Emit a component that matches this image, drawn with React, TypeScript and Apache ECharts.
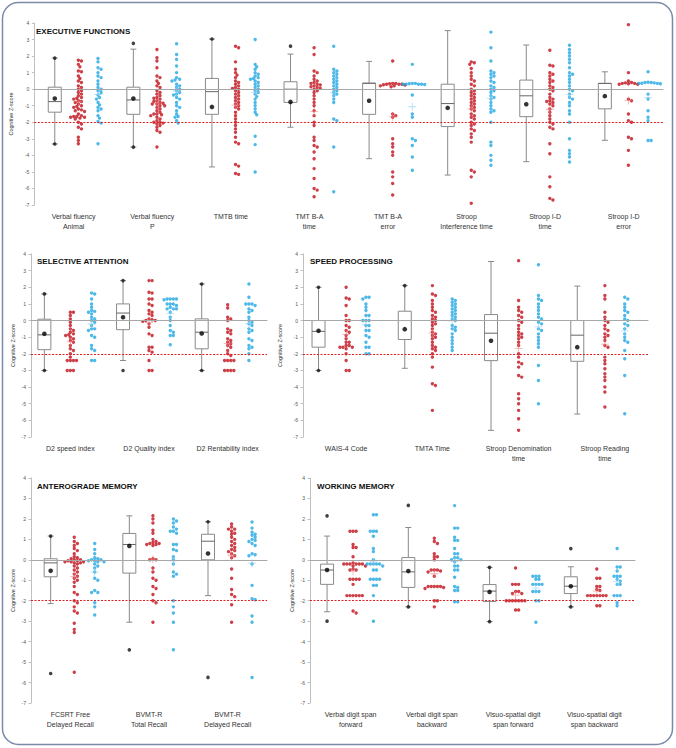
import React, { useEffect, useRef } from "react";
import * as echarts from "echarts";

const RED = "#c0101a";
const BLUE = "#22a8e2";
const FONT = '"Liberation Sans", Arial, sans-serif';

// ---------- Executive functions ----------
const execCategories = ["Verbal fluency\nAnimal", "Verbal fluency\nP", "TMTB time", "TMT B-A\ntime", "TMT B-A\nerror", "Stroop\nInterference time", "Stroop I-D\ntime", "Stroop I-D\nerror"];
// [whisker low, Q1, median, Q3, whisker high]
const execBoxes = [
  [-3.31, -1.39, -0.75, 0.12, 1.88], [-3.5, -1.52, -0.65, 0.12, 2.42], [-4.7, -1.52, -0.15, 0.65, 3.03], [-2.3, -0.8, 0.0, 0.45, 2.12],
  [-4.2, -1.52, 0.36, 0.36, 1.68], [-5.19, -2.26, -0.87, 0.3, 3.54], [-4.38, -1.66, -0.4, 0.55, 2.67], [-3.09, -1.19, 0.35, 0.35, 1.05],
];
const execMeans = [-0.57, -0.57, -1.07, -0.77, -0.7, -1.13, -0.91, -0.42];
const execExtremes = [[1.88, -3.31], [2.77, -3.5], [3.03], [2.6], [], [], [], []];
const execRed = [
  [1.75, 1.7, 1.5, 1.35, 1.1, 1.05, 0.8, 0.65, 0.5, 0.4, 0.2, 0.1, 0.0, -0.1, -0.2, -0.3, -0.4, -0.5, -0.55, -0.6, -0.7, -0.75, -0.8, -0.9, -1.0, -1.05, -1.1, -1.2, -1.25, -1.3, -1.35, -1.5, -1.6, -1.65, -1.65, -1.7, -1.7, -1.75, -1.8, -2.0, -2.1, -2.3, -2.4, -2.9, -3.1, -3.3],
  [2.4, 1.9, 1.7, 1.3, 0.8, 0.7, 0.5, 0.35, 0.2, 0.1, -0.1, -0.2, -0.3, -0.4, -0.5, -0.55, -0.6, -0.7, -0.75, -0.8, -0.85, -0.9, -0.9, -1.0, -1.0, -1.1, -1.2, -1.3, -1.4, -1.5, -1.5, -1.55, -1.6, -1.7, -1.8, -1.9, -2.0, -2.0, -2.05, -2.1, -2.2, -2.3, -2.5, -2.6, -3.5],
  [2.6, 2.5, 1.65, 1.2, 1.0, 0.85, 0.7, 0.5, 0.4, 0.3, 0.2, 0.1, 0.05, 0.0, -0.1, -0.2, -0.3, -0.4, -0.5, -0.6, -0.7, -0.8, -0.9, -1.0, -1.1, -1.2, -1.4, -1.6, -1.8, -2.0, -2.2, -2.4, -2.6, -2.9, -3.2, -3.3, -4.55, -4.65, -5.1, -5.15],
  [2.5, 2.1, 1.1, 1.0, 0.8, 0.6, 0.5, 0.4, 0.35, 0.3, 0.25, 0.2, 0.15, 0.1, 0.05, 0.0, -0.1, -0.2, -0.4, -0.6, -0.8, -1.0, -1.3, -1.6, -2.0, -2.2, -2.9, -3.1, -3.4, -3.5, -3.8, -4.2, -4.8, -5.4, -6.0, -6.1, -6.5],
  [1.7, 0.35, 0.35, 0.33, 0.3, 0.3, 0.3, 0.27, 0.25, 0.2, 0.2, 0.15, -1.5, -1.6, -1.7, -3.0, -3.3, -3.5, -3.8, -4.0, -5.0, -5.3, -5.7, -6.4],
  [1.65, 1.6, 1.5, 1.25, 1.0, 0.8, 0.6, 0.5, 0.3, 0.2, 0.0, -0.1, -0.2, -0.3, -0.4, -0.5, -0.6, -0.7, -0.8, -0.9, -1.0, -1.1, -1.2, -1.3, -1.5, -1.6, -1.7, -1.8, -2.0, -2.1, -2.2, -2.4, -2.5, -2.7, -2.9, -3.2, -4.9, -5.0, -5.3, -6.9],
  [2.35, 1.45, 1.4, 1.0, 0.9, 0.8, 0.6, 0.5, 0.4, 0.2, 0.1, 0.0, -0.1, -0.3, -0.5, -0.6, -0.7, -0.75, -0.8, -0.9, -1.0, -1.2, -1.4, -1.6, -1.8, -2.0, -2.1, -2.3, -2.4, -3.3, -3.9, -5.3, -5.9, -6.6, -6.7],
  [3.9, 1.0, 0.5, 0.4, 0.38, 0.35, 0.33, 0.3, 0.3, 0.35, -0.6, -0.7, -1.5, -1.9, -2.0, -2.9, -3.0, -3.7, -4.6],
];
const execBlue = [
  [1.85, 1.65, 1.3, 1.2, 1.0, 0.8, 0.7, 0.5, 0.3, 0.1, 0.0, -0.1, -0.2, -0.35, -0.5, -0.6, -0.8, -0.95, -1.1, -1.2, -1.3, -1.6, -1.75, -1.95, -2.05, -3.3],
  [2.75, 2.1, 1.8, 1.4, 1.0, 0.7, 0.6, 0.55, 0.5, 0.3, 0.2, 0.1, 0.0, -0.1, -0.2, -0.3, -0.35, -0.5, -0.6, -0.8, -1.0, -1.1, -1.3, -1.5, -1.65, -1.7, -1.9, -2.05],
  [3.0, 1.5, 1.35, 1.2, 1.0, 0.9, 0.8, 0.7, 0.65, 0.6, 0.5, 0.4, 0.3, 0.2, 0.1, 0.0, -0.1, -0.2, -0.3, -0.45, -0.6, -0.8, -1.0, -1.2, -1.4, -1.55, -2.85, -3.35, -5.0],
  [2.6, 1.2, 1.1, 1.0, 0.9, 0.8, 0.7, 0.6, 0.5, 0.4, 0.3, 0.2, 0.1, 0.0, -0.1, -0.2, -0.3, -0.4, -0.6, -0.8, -1.8, -1.9, -3.5, -6.2],
  [1.5, 0.35, 0.33, 0.3, 0.3, 0.3, 0.3, 0.28, 0.35, -0.35, -1.5, -1.7, -3.0, -3.1, -3.4, -4.1, -4.9],
  [3.45, 2.5, 1.7, 1.1, 1.0, 0.9, 0.8, 0.7, 0.5, 0.4, 0.2, 0.1, 0.0, -0.1, -0.2, -0.4, -0.5, -0.6, -0.8, -1.0, -1.2, -1.3, -1.4, -2.0, -3.2, -3.4, -4.0, -4.3, -4.6],
  [2.65, 2.4, 2.2, 2.0, 1.8, 1.6, 1.3, 1.0, 0.9, 0.8, 0.6, 0.4, 0.2, 0.0, -0.1, -0.3, -0.5, -0.6, -0.8, -1.0, -1.3, -1.5, -2.0, -3.0, -3.7, -3.9, -4.1, -4.4],
  [1.05, 0.42, 0.4, 0.4, 0.38, 0.36, 0.35, 0.35, 0.33, -0.3, -0.6, -1.3, -1.7, -1.9, -3.1, -3.1],
];

// ---------- Selective attention ----------
const selCategories = ["D2 speed index", "D2 Quality index", "D2 Rentability index"];
const selBoxes = [[-3.0, -1.75, -0.86, 0.08, 1.6], [-2.4, -0.55, 0.45, 1.0, 2.4], [-3.0, -1.7, -0.7, 0.1, 2.2]];
const selMeans = [-0.8, 0.2, -0.78];
const selExtremes = [[1.6, -3.0], [2.4, -3.0], [2.2, -3.0]];
const selRed = [
  [0.5, 0.5, 0.3, 0.1, -0.1, -0.3, -0.5, -0.6, -0.7, -0.8, -0.85, -0.9, -1.0, -1.1, -1.2, -1.3, -1.5, -1.7, -1.8, -2.0, -2.2, -2.4, -2.4, -2.4, -2.4, -3.0, -3.0, -3.0],
  [2.4, 2.4, 1.7, 1.65, 1.3, 1.3, 1.0, 0.9, 0.6, 0.5, 0.4, 0.3, 0.1, 0.05, 0.0, 0.0, -0.05, -0.2, -0.4, -0.8, -0.9, -1.6, -1.6, -1.8, -1.9, -2.4, -3.0, -3.0],
  [0.95, 0.75, 0.2, 0.1, 0.0, -0.5, -0.6, -0.7, -0.8, -1.1, -1.2, -1.3, -1.4, -1.5, -1.6, -1.8, -2.0, -2.1, -2.4, -2.4, -2.4, -2.4, -3.0, -3.0, -3.0, -3.0],
];
const selBlue = [
  [1.65, 1.6, 1.3, 1.0, 0.8, 0.6, 0.55, 0.5, 0.4, 0.2, 0.1, 0.0, -0.1, -0.3, -0.5, -0.5, -0.6, -0.9, -1.0, -1.5, -1.7, -1.8, -2.4, -2.4],
  [1.3, 1.3, 1.3, 1.3, 1.25, 1.0, 1.0, 1.0, 0.9, 0.8, 0.7, 0.7, 0.7, 0.5, 0.2, 0.0, -0.3, -0.6, -0.7, -0.9, -0.9, -1.45],
  [2.2, 1.4, 1.0, 1.0, 1.0, 0.9, 0.7, 0.6, 0.5, 0.2, 0.0, -0.1, -0.2, -0.3, -0.5, -0.6, -0.7, -1.1, -1.2, -1.5, -1.6, -1.7, -2.0, -2.4],
];

// ---------- Speed processing ----------
const speedCategories = ["WAIS-4 Code", "TMTA Time", "Stroop Denomination\ntime", "Stroop Reading\ntime"];
const speedBoxes = [[-3.0, -1.6, -0.65, 0.0, 2.0], [-2.87, -1.14, 0.0, 0.56, 2.1], [-6.6, -2.41, -0.76, 0.36, 3.55], [-5.62, -2.45, -0.88, 0.0, 2.07]];
const speedMeans = [-0.62, -0.52, -1.22, -1.6];
const speedExtremes = [[2.0, -3.0], [2.1], [], []];
const speedRed = [
  [2.0, 1.35, 1.3, 0.9, 0.3, 0.0, 0.0, -0.3, -0.4, -0.6, -0.7, -0.9, -1.1, -1.3, -1.3, -1.5, -1.5, -1.6, -1.6, -1.6, -1.7, -2.0, -2.4, -3.0, -3.0],
  [2.1, 1.6, 1.5, 1.2, 1.0, 0.8, 0.6, 0.5, 0.3, 0.2, 0.1, 0.0, -0.1, -0.2, -0.3, -0.5, -0.7, -0.8, -0.9, -1.0, -1.1, -1.3, -1.5, -1.6, -1.7, -1.8, -2.0, -2.2, -2.8, -3.8, -3.9, -5.4],
  [3.6, 1.2, 0.8, 0.6, 0.5, 0.3, 0.2, 0.0, -0.1, -0.3, -0.5, -0.7, -0.8, -0.9, -1.0, -1.1, -1.3, -1.5, -2.0, -2.2, -2.5, -2.6, -2.8, -3.3, -3.4, -4.4, -4.7, -5.0, -5.4, -5.9, -6.6],
  [2.1, 1.5, 1.3, 0.5, 0.2, 0.0, -0.1, -0.3, -0.5, -0.6, -0.8, -0.9, -1.0, -1.2, -1.5, -1.6, -2.2, -2.4, -2.6, -2.9, -3.2, -3.4, -3.6, -4.0, -4.3, -5.2],
];
const speedBlue = [
  [1.4, 1.4, 1.3, 1.0, 0.8, 0.6, 0.3, 0.3, 0.0, 0.0, 0.0, -0.3, -0.3, -0.6, -0.6, -0.9, -1.0, -1.3, -1.6, -1.6, -2.0, -2.0],
  [1.3, 1.2, 1.1, 1.0, 0.9, 0.8, 0.7, 0.6, 0.5, 0.4, 0.3, 0.2, 0.1, 0.0, -0.3, -0.4, -0.5, -0.6, -0.8, -1.0, -1.2, -1.4, -1.6, -1.8],
  [3.35, 1.5, 1.3, 1.2, 1.0, 0.8, 0.6, 0.4, 0.2, 0.1, -0.1, -0.2, -0.5, -0.6, -0.8, -1.0, -1.2, -1.4, -1.6, -2.7, -3.6, -5.0],
  [1.4, 1.3, 1.0, 0.8, 0.6, 0.5, 0.3, 0.1, 0.0, -0.2, -0.3, -0.5, -0.8, -1.0, -1.2, -1.3, -1.8, -2.3, -3.3, -5.6],
];

// ---------- Anterograde memory ----------
const anteroCategories = ["FCSRT Free\nDelayed Recall", "BVMT-R\nTotal Recall", "BVMT-R\nDelayed Recall"];
const anteroBoxes = [[-2.14, -0.83, -0.15, 0.05, 1.16], [-3.05, -0.65, 0.75, 1.29, 2.15], [-1.75, 0.0, 0.91, 1.25, 1.86]];
const anteroMeans = [-0.54, 0.68, 0.31];
const anteroExtremes = [[1.16, -5.56], [-4.4], [1.86, -5.75]];
const anteroRed = [
  [1.1, 0.9, 0.8, 0.7, 0.55, 0.45, 0.3, 0.15, 0.1, 0.05, 0.0, 0.0, -0.05, -0.05, -0.1, -0.1, -0.15, -0.15, -0.1, -0.2, -0.3, -0.4, -0.5, -0.6, -0.7, -0.8, -0.9, -1.0, -1.1, -1.3, -1.6, -1.7, -2.0, -2.1, -2.3, -2.5, -2.6, -3.1, -3.4, -3.55, -5.5],
  [2.15, 2.0, 1.8, 1.45, 1.3, 1.0, 0.9, 0.85, 0.8, 0.8, 0.75, 0.75, 0.7, 0.05, 0.0, 0.0, -0.4, -0.6, -0.9, -1.0, -1.3, -1.4, -1.7, -2.0, -2.1, -3.05],
  [1.75, 1.6, 1.5, 1.5, 1.4, 1.3, 1.25, 1.1, 1.0, 0.9, 0.8, 0.7, 0.6, 0.5, 0.45, 0.4, 0.3, 0.2, 0.1, -0.45, -0.9, -1.45, -1.7, -1.8, -2.2, -3.05],
];
const anteroBlue = [
  [0.8, 0.5, 0.3, 0.1, 0.05, 0.0, 0.0, -0.05, -0.05, -0.1, -0.1, -0.2, -0.3, -0.4, -0.6, -0.9, -1.0, -1.5, -1.6, -1.6, -2.1, -2.3, -2.7],
  [2.0, 1.9, 1.8, 1.6, 1.5, 1.4, 1.4, 1.3, 0.75, 0.75, 0.5, 0.45, 0.15, 0.0, -0.2, -0.6, -0.7, -0.8, -2.0, -2.3, -2.6, -3.05, -4.4],
  [1.85, 1.55, 1.35, 1.25, 1.2, 1.1, 1.0, 0.95, 0.9, 0.8, 0.7, 0.3, 0.25, 0.2, -0.2, -1.25, -1.9, -1.95, -2.75, -3.05, -5.75],
];

// ---------- Working memory ----------
const workCategories = ["Verbal digit span\nforward", "Verbal digit span\nbackward", "Visuo-spatial digit\nspan forward", "Visuo-spatial digit\nspan backward"];
const workBoxes = [[-2.54, -1.2, -0.5, -0.21, 1.16], [-2.3, -1.35, -0.59, 0.11, 1.58], [-3.02, -2.04, -1.53, -1.21, -0.37], [-2.3, -1.65, -1.29, -0.83, -0.34]];
const workMeans = [-0.5, -0.55, -1.57, -1.29];
const workExtremes = [[2.15, -3.0], [2.66, -2.3], [-0.37, -3.02], [0.55, -2.3]];
const workRed = [
  [1.4, 1.4, 1.4, 0.75, 0.6, 0.6, 0.15, -0.15, -0.2, -0.2, -0.2, -0.2, -0.2, -0.2, -0.3, -0.3, -0.45, -0.5, -0.5, -0.95, -0.95, -0.95, -0.95, -1.2, -1.75, -1.75, -1.75, -1.75, -1.75, -1.75, -2.5, -2.6],
  [1.05, 0.9, 0.8, 0.3, 0.15, 0.15, 0.0, -0.5, -0.5, -0.5, -0.55, -0.6, -0.8, -1.3, -1.3, -1.3, -1.3, -1.3, -1.35, -1.4, -2.0, -2.0, -2.3],
  [-0.4, -1.2, -1.2, -1.2, -1.55, -1.55, -1.65, -1.65, -2.0, -2.0, -2.0, -2.0, -2.0, -2.0, -2.0, -2.45, -2.45],
  [-0.45, -0.9, -0.9, -1.3, -1.3, -1.45, -1.5, -1.75, -1.75, -1.75, -1.75, -1.75, -1.75, -1.75, -2.25, -2.25],
];
const workBlue = [
  [2.2, 2.2, 1.4, 1.4, 1.4, 1.15, 0.55, 0.4, 0.0, -0.2, -0.2, -0.2, -0.2, -0.2, -0.3, -0.5, -0.5, -0.95, -0.95, -0.95, -0.95, -1.25, -1.25, -1.75, -3.0],
  [2.65, 1.55, 1.55, 1.1, 0.95, 0.95, 0.55, 0.3, 0.3, 0.1, 0.1, 0.0, 0.0, -0.1, -0.3, -0.3, -0.5, -0.5, -0.85, -1.3, -1.35, -1.5, -1.5, -2.05, -2.05],
  [-0.8, -0.8, -0.8, -0.95, -0.95, -1.2, -1.2, -1.2, -1.2, -1.55, -1.55, -1.55, -2.0, -2.0, -3.05],
  [0.55, -0.35, -0.35, -0.55, -0.8, -0.8, -0.8, -0.95, -1.05, -1.2, -1.2, -1.75, -1.75, -1.75, -2.1, -2.25],
];

type Panel = {
  title: string; tx: number; ty: number;
  left: number; top: number; width: number; height: number; nameGap: number;
  cats: string[]; boxes: number[][]; means: number[]; extremes: number[][];
  red: number[][]; blue: number[][]; off: [number, number, number];
};

const panels: Panel[] = [
  { title: "EXECUTIVE FUNCTIONS", tx: 36, ty: 31, left: 31, top: 23, width: 632, height: 182, nameGap: 15, cats: execCategories, boxes: execBoxes, means: execMeans, extremes: execExtremes, red: execRed, blue: execBlue, off: [0.26, 0.56, 0.81] },
  { title: "SELECTIVE ATTENTION", tx: 37, ty: 261, left: 31, top: 254, width: 236, height: 183, nameGap: 15, cats: selCategories, boxes: selBoxes, means: selMeans, extremes: selExtremes, red: selRed, blue: selBlue, off: [0.17, 0.5, 0.77] },
  { title: "SPEED PROCESSING", tx: 310, ty: 261, left: 303, top: 254, width: 345, height: 183, nameGap: 15, cats: speedCategories, boxes: speedBoxes, means: speedMeans, extremes: speedExtremes, red: speedRed, blue: speedBlue, off: [0.18, 0.5, 0.73] },
  { title: "ANTEROGRADE MEMORY", tx: 37, ty: 486, left: 31, top: 478, width: 236, height: 225, nameGap: 15, cats: anteroCategories, boxes: anteroBoxes, means: anteroMeans, extremes: anteroExtremes, red: anteroRed, blue: anteroBlue, off: [0.25, 0.55, 0.81] },
  { title: "WORKING MEMORY", tx: 317, ty: 486, left: 310, top: 478, width: 325, height: 225, nameGap: 15, cats: workCategories, boxes: workBoxes, means: workMeans, extremes: workExtremes, red: workRed, blue: workBlue, off: [0.21, 0.53, 0.78] },
];

// deterministic beeswarm layout: returns horizontal pixel offsets
function swarm(values: number[], pxPerY: number, d: number): number[] {
  const idx = values.map((_, i) => i).sort((a, b) => values[b] - values[a]);
  const placed: { x: number; y: number }[] = [];
  const out = new Array(values.length).fill(0);
  const step = d / 2;
  for (const i of idx) {
    const y = -values[i] * pxPerY;
    for (let k = 0; k < 80; k++) {
      const m = Math.ceil(k / 2);
      const off = k === 0 ? 0 : k % 2 === 1 ? m * step : -m * step;
      let ok = true;
      for (const p of placed) {
        const dx = p.x - off, dy = p.y - y;
        if (dx * dx + dy * dy < d * d * 0.8) { ok = false; break; }
      }
      if (ok) { placed.push({ x: off, y }); out[i] = off; break; }
    }
  }
  return out;
}

const PLUS = "path://M0,4.5H10V5.5H0ZM4.5,0H5.5V10H4.5Z";

function buildOption() {
  const grid: any[] = [], xAxis: any[] = [], yAxis: any[] = [], series: any[] = [], graphic: any[] = [];
  graphic.push({ type: "rect", shape: { x: 2.5, y: 2.5, width: 670, height: 742, r: 16 }, style: { fill: "none", stroke: "#7c89a9", lineWidth: 1.5 }, silent: true, z: 0 });
  panels.forEach((p, pi) => {
    const n = p.cats.length;
    grid.push({ left: p.left, top: p.top, width: p.width, height: p.height });
    xAxis.push({
      type: "category", gridIndex: pi, data: p.cats, boundaryGap: true, position: "bottom",
      axisLine: { lineStyle: { color: "#a0a0a0", width: 1 } }, axisTick: { show: false },
      axisLabel: { interval: 0, fontSize: 7, color: "#333", lineHeight: 10, margin: 6, fontFamily: FONT },
      splitLine: { show: false },
    });
    xAxis.push({ type: "value", gridIndex: pi, min: 0, max: n, show: false });
    yAxis.push({
      type: "value", gridIndex: pi, min: -7, max: 4, interval: 1,
      name: "Cognitive Z-score", nameLocation: "middle", nameGap: p.nameGap,
      nameTextStyle: { fontSize: 5.5, color: "#333", fontFamily: FONT },
      axisLine: { show: true, lineStyle: { color: "#c0c0c0" } },
      axisTick: { show: true, length: 2.5, lineStyle: { color: "#c0c0c0" } },
      axisLabel: { fontSize: 5, color: "#555", margin: 5, fontFamily: FONT },
      splitLine: { show: false },
    });
    const xi = pi * 2 + 1;
    const pxPerX = p.width / n;
    const pxPerY = p.height / 11;
    // reference lines
    series.push({
      type: "scatter", xAxisIndex: xi, yAxisIndex: pi, data: [[0, 0]], symbolSize: 0, silent: true, z: 1,
      markLine: {
        silent: true, symbol: "none", label: { show: false }, animation: false,
        data: [
          { yAxis: 0, lineStyle: { color: "#a8a8a8", width: 1.2, type: "solid" } },
          { yAxis: -2, lineStyle: { color: "#e02020", width: 1, type: [2, 1.5] } },
        ],
      },
    });
    // boxes
    series.push({
      type: "custom", xAxisIndex: xi, yAxisIndex: pi, z: 2,
      data: p.boxes.map((b, i) => [i + p.off[0], ...b]),
      encode: { x: 0, y: [1, 2, 3, 4, 5] },
      renderItem: (params: any, api: any) => {
        const x = api.value(0);
        const lo = api.coord([x, api.value(1)]);
        const q1 = api.coord([x, api.value(2)]);
        const med = api.coord([x, api.value(3)]);
        const q3 = api.coord([x, api.value(4)]);
        const hi = api.coord([x, api.value(5)]);
        const cx = lo[0], hw = 6.5, cw = 3;
        const ls = { stroke: "#8a8a8a", lineWidth: 1 };
        return {
          type: "group",
          children: [
            { type: "line", shape: { x1: cx, y1: hi[1], x2: cx, y2: q3[1] }, style: ls },
            { type: "line", shape: { x1: cx, y1: q1[1], x2: cx, y2: lo[1] }, style: ls },
            { type: "line", shape: { x1: cx - cw, y1: hi[1], x2: cx + cw, y2: hi[1] }, style: ls },
            { type: "line", shape: { x1: cx - cw, y1: lo[1], x2: cx + cw, y2: lo[1] }, style: ls },
            { type: "rect", shape: { x: cx - hw, y: q3[1], width: 2 * hw, height: q1[1] - q3[1] }, style: { fill: "#fff", stroke: "#8a8a8a", lineWidth: 1 } },
            { type: "line", shape: { x1: cx - hw, y1: med[1], x2: cx + hw, y2: med[1] }, style: { stroke: "#666", lineWidth: 1 } },
          ],
        };
      },
    });
    const strip = (groups: number[][], off: number, color: string, cross: string) => {
      const pts: number[][] = [];
      const mpts: number[][] = [];
      groups.forEach((vals, gi) => {
        const offs = swarm(vals, pxPerY, 3.1);
        vals.forEach((v, k) => pts.push([gi + off + offs[k] / pxPerX, v]));
        const mean = vals.reduce((a, b) => a + b, 0) / vals.length;
        mpts.push([gi + off, mean]);
      });
      series.push({ type: "scatter", xAxisIndex: xi, yAxisIndex: pi, z: 3, symbol: "circle", symbolSize: 3.4, itemStyle: { color }, data: pts, silent: true });
      series.push({ type: "scatter", xAxisIndex: xi, yAxisIndex: pi, z: 4, symbol: PLUS, symbolSize: 8, itemStyle: { color: cross }, data: mpts, silent: true });
    };
    strip(p.red, p.off[1], RED, "rgba(240,120,120,0.8)");
    strip(p.blue, p.off[2], BLUE, "rgba(140,205,240,0.85)");
    const ext: number[][] = [];
    p.extremes.forEach((arr, gi) => arr.forEach((v) => ext.push([gi + p.off[0], v])));
    series.push({ type: "scatter", xAxisIndex: xi, yAxisIndex: pi, z: 5, symbolSize: 3.6, itemStyle: { color: "#111" }, data: ext, silent: true });
    series.push({ type: "scatter", xAxisIndex: xi, yAxisIndex: pi, z: 5, symbolSize: 4.6, itemStyle: { color: "#000" }, data: p.means.map((m, gi) => [gi + p.off[0], m]), silent: true });
    graphic.push({ type: "text", x: p.tx, y: p.ty, style: { text: p.title, font: `bold 8px ${FONT}`, fill: "#111", verticalAlign: "middle" }, z: 10 });
  });
  return { animation: false, backgroundColor: "#fff", grid, xAxis, yAxis, series, graphic };
}

export default function App() {
  const ref = useRef<HTMLDivElement>(null);
  useEffect(() => {
    document.body.style.margin = "0";
    if (!ref.current) return;
    const chart = echarts.init(ref.current, undefined, { renderer: "svg" });
    chart.setOption(buildOption() as any);
    return () => chart.dispose();
  }, []);
  return <div ref={ref} style={{ width: 676, height: 748 }} />;
}
